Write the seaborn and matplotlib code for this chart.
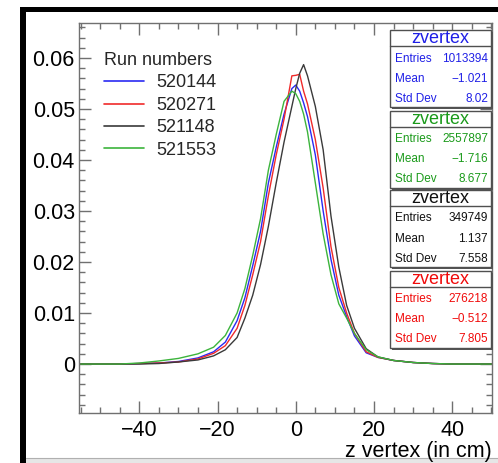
import numpy as np
import pandas as pd
import matplotlib
matplotlib.use("Agg")
import matplotlib.pyplot as plt
from matplotlib.patches import Rectangle
from matplotlib.lines import Line2D
from matplotlib.ticker import MultipleLocator, FixedLocator, FixedFormatter
import seaborn as sns

# z positions (cm) of the sampled histogram contents
z_cm = [-55, -50, -45, -40, -35, -30, -25, -21, -18, -15, -13, -11, -9, -7, -5, -3,
        -1, 0, 1, 2, 3, 5, 7, 9, 11, 13, 15, 18, 21, 25, 30, 35, 40, 45, 50]

# normalised z-vertex distributions per run
run_520144 = [0, 0, 0, 0.0001, 0.0002, 0.0005, 0.0012, 0.0024, 0.0043, 0.0085, 0.0130,
              0.0193, 0.0260, 0.0355, 0.0425, 0.0490, 0.0540, 0.0547, 0.0535, 0.0512,
              0.0485, 0.0410, 0.0300, 0.0205, 0.0135, 0.0093, 0.0055, 0.0022, 0.0013,
              0.0007, 0.0003, 0.0001, 0, 0, 0]
run_520271 = [0, 0, 0, 0.0001, 0.0002, 0.0004, 0.0010, 0.0021, 0.0036, 0.0070, 0.0115,
              0.0175, 0.0240, 0.0330, 0.0410, 0.0480, 0.0565, 0.0566, 0.0568, 0.0535,
              0.0510, 0.0440, 0.0345, 0.0230, 0.0150, 0.0100, 0.0060, 0.0024, 0.0013,
              0.0007, 0.0003, 0.0001, 0, 0, 0]
run_521148 = [0, 0, 0, 0, 0.0001, 0.0004, 0.0008, 0.0016, 0.0028, 0.0052, 0.0090,
              0.0135, 0.0195, 0.0270, 0.0355, 0.0435, 0.0505, 0.0540, 0.0570, 0.0587,
              0.0565, 0.0505, 0.0420, 0.0290, 0.0190, 0.0115, 0.0070, 0.0030, 0.0014,
              0.0007, 0.0003, 0.0001, 0, 0, 0]
run_521553 = [0, 0, 0, 0.0002, 0.0006, 0.0011, 0.0020, 0.0033, 0.0056, 0.0100, 0.0148,
              0.0213, 0.0285, 0.0380, 0.0450, 0.0515, 0.0535, 0.0530, 0.0515, 0.0490,
              0.0455, 0.0355, 0.0255, 0.0175, 0.0118, 0.0090, 0.0060, 0.0028, 0.0014,
              0.0007, 0.0003, 0.0001, 0, 0, 0]

runs = ["520144", "520271", "521148", "521553"]
line_colors = ["#2a2af2", "#f02a2a", "#3a3a3a", "#3cb43c"]
text_colors = ["#1f1fe6", "#f00a0a", "#111111", "#1a9a1a"]

# statistics panels, drawn top to bottom
stat_runs = ["520144", "521553", "521148", "520271"]
stat_entries = ["1013394", "2557897", "349749", "276218"]
stat_means = ["\u22121.021", "\u22121.716", "1.137", "\u22120.512"]
stat_stds = ["8.02", "8.677", "7.558", "7.805"]

x_ticks = [-40, -20, 0, 20, 40]
x_ticklabels = ["\u221240", "\u221220", "0", "20", "40"]
y_ticks = [0, 0.01, 0.02, 0.03, 0.04, 0.05, 0.06]
y_ticklabels = ["0", "0.01", "0.02", "0.03", "0.04", "0.05", "0.06"]

sns.set_theme(style="white")
plt.rcParams["font.family"] = ["Liberation Sans", "DejaVu Sans"]

W, H = 498, 463
fig = plt.figure(figsize=(W / 100, H / 100), dpi=100)
fig.patch.set_facecolor("white")


def fx(px):
    return px / W


def fy(py):
    return 1 - py / H


ax = fig.add_axes([fx(79), fy(413), fx(492) - fx(79), fy(23) - fy(413)])

series = {"520144": run_520144, "520271": run_520271,
          "521148": run_521148, "521553": run_521553}
df = pd.concat([pd.DataFrame({"z": z_cm, "density": v, "run": r})
                for r, v in series.items()], ignore_index=True)

palette = dict(zip(runs, line_colors))
sns.lineplot(data=df, x="z", y="density", hue="run", hue_order=runs,
             palette=palette, estimator=None, sort=False, linewidth=1.0,
             legend=False, ax=ax)

ax.set_xlim(-55.4, 50.15)
ax.set_ylim(-0.0096, 0.06686)

ax.xaxis.set_major_locator(FixedLocator(x_ticks))
ax.xaxis.set_major_formatter(FixedFormatter(x_ticklabels))
ax.xaxis.set_minor_locator(MultipleLocator(5))
ax.yaxis.set_major_locator(FixedLocator(y_ticks))
ax.yaxis.set_major_formatter(FixedFormatter(y_ticklabels))
ax.yaxis.set_minor_locator(MultipleLocator(0.002))

spine_col = "#707070"
for s in ax.spines.values():
    s.set_color(spine_col)
    s.set_linewidth(1.0)
    s.set_visible(True)

ax.tick_params(which="both", direction="in", bottom=True, left=True, top=True,
               right=True, color=spine_col, width=1.0, labelcolor="black")
ax.tick_params(which="major", length=8.5, labelsize=15.5)
ax.tick_params(which="minor", length=4.5)
ax.tick_params(axis="x", which="major", pad=5)
ax.tick_params(axis="y", which="major", pad=3)
ax.grid(False)

ax.set_xlabel("")
ax.set_ylabel("")
fig.text(fx(492), fy(451), "z vertex (in cm)", ha="right", va="center",
         fontsize=15.5, color="black")

# legend
handles = [Line2D([0], [0], color=c, lw=1.2) for c in line_colors]
leg = ax.legend(handles, runs, title="Run numbers", loc="upper left",
                bbox_to_anchor=(fx(104), fy(52)), bbox_transform=fig.transFigure,
                frameon=False, fontsize=13, title_fontsize=13,
                handlelength=2.2, handletextpad=0.7, labelspacing=0.3,
                borderpad=0.0, borderaxespad=0.0)
leg._legend_box.align = "left"

# statistics boxes
box_left, box_right = 390, 491
box_tops = [30, 111, 190, 271]
box_h = 77
for i, run in enumerate(stat_runs):
    col = text_colors[runs.index(run)]
    top = box_tops[i]
    fig.patches.append(Rectangle((fx(box_left + 1.5), fy(top + box_h + 1.5)),
                                 fx(box_right - box_left), fy(0) - fy(box_h),
                                 transform=fig.transFigure, facecolor="#555555",
                                 edgecolor="none", zorder=4))
    fig.patches.append(Rectangle((fx(box_left), fy(top + box_h)),
                                 fx(box_right - box_left), fy(0) - fy(box_h),
                                 transform=fig.transFigure, facecolor="white",
                                 edgecolor="#505050", lw=1.0, zorder=5))
    fig.lines.append(Line2D([fx(box_left), fx(box_right)], [fy(top + 16), fy(top + 16)],
                            transform=fig.transFigure, color="#505050", lw=1.0, zorder=6))
    fig.text(fx((box_left + box_right) / 2), fy(top + 8.5), "zvertex", ha="center",
             va="center", fontsize=13, color=col, zorder=7)
    rows = [("Entries", stat_entries[i]), ("Mean", stat_means[i]), ("Std Dev", stat_stds[i])]
    for j, (lab, val) in enumerate(rows):
        yy = fy(top + 28.5 + 20 * j)
        fig.text(fx(box_left + 5), yy, lab, ha="left", va="center",
                 fontsize=8.5, color=col, zorder=7)
        fig.text(fx(box_right - 3), yy, val, ha="right", va="center",
                 fontsize=8.5, color=col, zorder=7)

# window frame around the canvas
fig.patches.append(Rectangle((fx(20), fy(12)), fx(W - 20), fy(7) - fy(12),
                             transform=fig.transFigure, facecolor="black",
                             edgecolor="none", zorder=10))
fig.patches.append(Rectangle((fx(20), fy(H)), fx(6), fy(7) - fy(H),
                             transform=fig.transFigure, facecolor="black",
                             edgecolor="none", zorder=10))
fig.patches.append(Rectangle((fx(26), fy(H)), fx(W - 26), fy(458) - fy(H),
                             transform=fig.transFigure, facecolor="#e6e6e6",
                             edgecolor="none", zorder=1))
fig.lines.append(Line2D([fx(26), fx(W)], [fy(458), fy(458)], transform=fig.transFigure,
                        color="#b0b0b0", lw=0.8, zorder=2))

fig.savefig("out.png", dpi=100, facecolor="white")
